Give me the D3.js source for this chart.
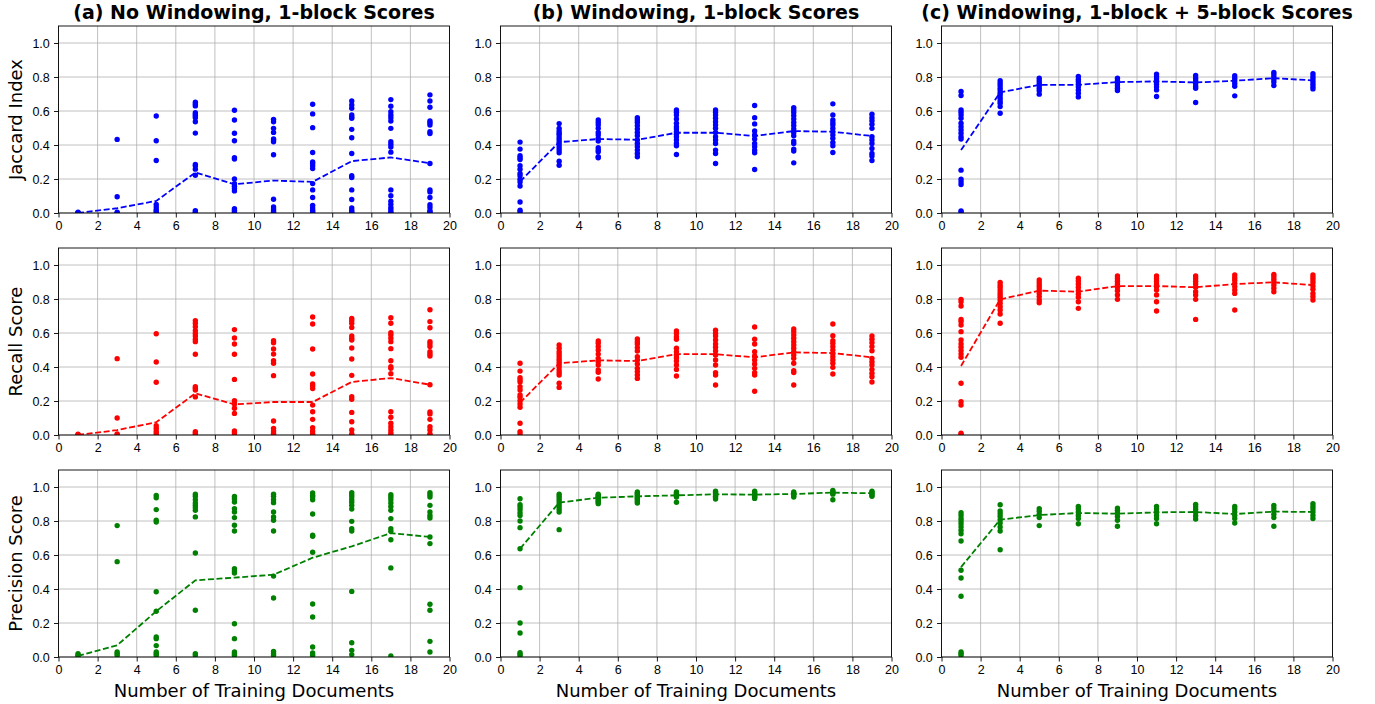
<!DOCTYPE html>
<html>
<head>
<meta charset="utf-8">
<script src="https://cdn.jsdelivr.net/npm/d3@7"></script>
<style>
  body { margin: 0; background: #fff; }
  svg { display: block; font-family: "DejaVu Sans", sans-serif; }
  .tick text { font-size: 12.5px; fill: #000; }
  .tick line { stroke: #000; stroke-width: 0.9; }
</style>
</head>
<body>
<svg id="chart" width="1375" height="704"></svg>
<script>
// number of training documents on the x axis
var xValues = [1, 3, 5, 7, 9, 11, 13, 15, 17, 19];
var xTicks = [0, 2, 4, 6, 8, 10, 12, 14, 16, 18, 20];
var yTicks = [0, 0.2, 0.4, 0.6, 0.8, 1.0];

var columnTitles = ['(a) No Windowing, 1-block Scores', '(b) Windowing, 1-block Scores', '(c) Windowing, 1-block + 5-block Scores'];
var rowLabels = ['Jaccard Index', 'Recall Score', 'Precision Score'];
var rowColors = ['#0000ff', '#ff0000', '#008000'];

// Jaccard index, one list of runs per x value
var jaccardA = [
  [0, 0, 0, 0.005],
  [0.433, 0.096, 0.004, 0],
  [0.571, 0.425, 0.309, 0.051, 0.035, 0.02, 0.01, 0],
  [0.652, 0.640, 0.630, 0.590, 0.580, 0.571, 0.561, 0.537, 0.470, 0.285, 0.276, 0.258, 0.222, 0.014, 0.006, 0],
  [0.604, 0.547, 0.469, 0.425, 0.325, 0.317, 0.200, 0.173, 0.157, 0.144, 0.130, 0.026, 0.016, 0.006, 0],
  [0.551, 0.537, 0.498, 0.474, 0.435, 0.429, 0.419, 0.343, 0.081, 0.035, 0.024, 0.014, 0.006, 0],
  [0.640, 0.583, 0.502, 0.356, 0.301, 0.291, 0.278, 0.262, 0.173, 0.136, 0.091, 0.045, 0.030, 0.016, 0.006, 0],
  [0.659, 0.636, 0.616, 0.577, 0.565, 0.557, 0.492, 0.443, 0.350, 0.219, 0.209, 0.136, 0.079, 0.030, 0.016, 0.006, 0],
  [0.667, 0.628, 0.596, 0.577, 0.561, 0.541, 0.498, 0.419, 0.404, 0.388, 0.358, 0.136, 0.102, 0.069, 0.051, 0.033, 0.020, 0.006, 0],
  [0.695, 0.659, 0.622, 0.541, 0.531, 0.518, 0.478, 0.467, 0.291, 0.136, 0.124, 0.091, 0.049, 0.033, 0.014, 0.006, 0]
];
var jaccardAMean = [0.0, 0.028, 0.071, 0.238, 0.169, 0.191, 0.183, 0.305, 0.327, 0.293];

var jaccardB = [
  [0.417, 0.376, 0.337, 0.325, 0.315, 0.278, 0.258, 0.232, 0.219, 0.199, 0.183, 0.159, 0.065, 0.016, 0.006],
  [0.526, 0.498, 0.482, 0.469, 0.459, 0.443, 0.429, 0.415, 0.400, 0.384, 0.370, 0.354, 0.305, 0.281],
  [0.547, 0.533, 0.518, 0.498, 0.474, 0.459, 0.439, 0.423, 0.384, 0.370, 0.360, 0.331, 0.325],
  [0.561, 0.547, 0.533, 0.514, 0.494, 0.474, 0.455, 0.429, 0.409, 0.390, 0.370, 0.350, 0.331],
  [0.606, 0.593, 0.577, 0.553, 0.528, 0.508, 0.494, 0.478, 0.463, 0.449, 0.429, 0.409, 0.396, 0.344],
  [0.606, 0.593, 0.577, 0.557, 0.537, 0.518, 0.498, 0.474, 0.449, 0.429, 0.409, 0.370, 0.350, 0.291],
  [0.632, 0.561, 0.524, 0.482, 0.459, 0.435, 0.409, 0.390, 0.370, 0.354, 0.256],
  [0.620, 0.606, 0.591, 0.573, 0.553, 0.533, 0.514, 0.494, 0.474, 0.455, 0.423, 0.409, 0.376, 0.364, 0.295],
  [0.642, 0.577, 0.547, 0.531, 0.518, 0.498, 0.478, 0.459, 0.439, 0.415, 0.396, 0.356],
  [0.581, 0.561, 0.543, 0.522, 0.498, 0.449, 0.429, 0.409, 0.380, 0.350, 0.335, 0.309]
];
var jaccardBMean = [0.185, 0.417, 0.435, 0.431, 0.472, 0.472, 0.453, 0.482, 0.478, 0.453];

var jaccardC = [
  [0.715, 0.691, 0.606, 0.593, 0.577, 0.557, 0.528, 0.508, 0.488, 0.469, 0.449, 0.435, 0.252, 0.199, 0.183, 0.167, 0.012, 0.006],
  [0.778, 0.764, 0.750, 0.734, 0.719, 0.705, 0.691, 0.675, 0.659, 0.646, 0.626, 0.587],
  [0.793, 0.778, 0.764, 0.750, 0.734, 0.719, 0.699],
  [0.803, 0.787, 0.774, 0.758, 0.742, 0.724, 0.705, 0.683],
  [0.793, 0.778, 0.764, 0.750, 0.734, 0.720],
  [0.817, 0.803, 0.789, 0.774, 0.758, 0.742, 0.724, 0.685],
  [0.809, 0.793, 0.778, 0.762, 0.746, 0.734, 0.650],
  [0.807, 0.793, 0.778, 0.762, 0.746, 0.689],
  [0.827, 0.813, 0.799, 0.785, 0.770, 0.750],
  [0.819, 0.803, 0.789, 0.774, 0.758, 0.742, 0.730]
];
var jaccardCMean = [0.370, 0.709, 0.754, 0.754, 0.770, 0.774, 0.768, 0.778, 0.793, 0.780];

// recall
var recallA = [
  [0, 0, 0.005],
  [0.449, 0.100, 0.006, 0],
  [0.596, 0.429, 0.310, 0.055, 0.039, 0.024, 0.012, 0],
  [0.673, 0.657, 0.637, 0.614, 0.598, 0.582, 0.563, 0.549, 0.475, 0.284, 0.275, 0.265, 0.224, 0.020, 0.010, 0],
  [0.620, 0.571, 0.535, 0.475, 0.327, 0.202, 0.182, 0.157, 0.127, 0.024, 0.014, 0],
  [0.555, 0.543, 0.506, 0.476, 0.437, 0.422, 0.349, 0.082, 0.039, 0.024, 0.010, 0],
  [0.694, 0.653, 0.506, 0.359, 0.300, 0.288, 0.273, 0.176, 0.137, 0.092, 0.043, 0.024, 0.006, 0],
  [0.686, 0.673, 0.657, 0.633, 0.582, 0.569, 0.559, 0.512, 0.447, 0.351, 0.225, 0.210, 0.133, 0.078, 0.029, 0.006, 0],
  [0.690, 0.657, 0.602, 0.588, 0.569, 0.549, 0.508, 0.437, 0.402, 0.392, 0.361, 0.137, 0.104, 0.069, 0.049, 0.029, 0.012, 0],
  [0.737, 0.667, 0.631, 0.549, 0.535, 0.520, 0.490, 0.476, 0.465, 0.296, 0.135, 0.124, 0.092, 0.049, 0.029, 0.006, 0]
];
var recallAMean = [0.0, 0.029, 0.075, 0.245, 0.180, 0.194, 0.194, 0.312, 0.335, 0.296];

var recallB = [
  [0.422, 0.376, 0.337, 0.324, 0.312, 0.284, 0.265, 0.235, 0.222, 0.202, 0.182, 0.163, 0.069, 0.020, 0.006],
  [0.529, 0.510, 0.490, 0.476, 0.461, 0.445, 0.431, 0.418, 0.402, 0.382, 0.367, 0.353, 0.304, 0.280],
  [0.553, 0.539, 0.520, 0.500, 0.476, 0.451, 0.431, 0.412, 0.382, 0.369, 0.329],
  [0.565, 0.549, 0.535, 0.514, 0.494, 0.461, 0.441, 0.418, 0.392, 0.373, 0.353, 0.333],
  [0.612, 0.598, 0.578, 0.563, 0.510, 0.490, 0.471, 0.455, 0.435, 0.412, 0.386, 0.347],
  [0.616, 0.598, 0.582, 0.559, 0.535, 0.516, 0.494, 0.471, 0.441, 0.412, 0.367, 0.353, 0.294],
  [0.635, 0.563, 0.535, 0.490, 0.465, 0.441, 0.418, 0.392, 0.367, 0.353, 0.257],
  [0.624, 0.608, 0.588, 0.569, 0.549, 0.529, 0.510, 0.490, 0.471, 0.451, 0.422, 0.378, 0.367, 0.294],
  [0.653, 0.584, 0.555, 0.539, 0.520, 0.500, 0.480, 0.461, 0.441, 0.422, 0.398, 0.359],
  [0.582, 0.563, 0.543, 0.520, 0.496, 0.451, 0.431, 0.412, 0.386, 0.363, 0.343, 0.312]
];
var recallBMean = [0.190, 0.422, 0.439, 0.435, 0.476, 0.475, 0.457, 0.486, 0.482, 0.457];

var recallC = [
  [0.798, 0.784, 0.759, 0.680, 0.667, 0.647, 0.608, 0.559, 0.535, 0.516, 0.496, 0.476, 0.457, 0.304, 0.196, 0.176, 0.010, 0.004],
  [0.898, 0.882, 0.869, 0.853, 0.837, 0.824, 0.810, 0.794, 0.775, 0.755, 0.735, 0.712, 0.657],
  [0.912, 0.896, 0.880, 0.865, 0.849, 0.833, 0.814, 0.794, 0.778],
  [0.922, 0.906, 0.888, 0.869, 0.849, 0.829, 0.810, 0.784, 0.745],
  [0.935, 0.920, 0.904, 0.888, 0.869, 0.849, 0.824, 0.798],
  [0.935, 0.920, 0.904, 0.888, 0.873, 0.853, 0.824, 0.784, 0.729],
  [0.935, 0.920, 0.904, 0.888, 0.869, 0.843, 0.824, 0.798, 0.680],
  [0.941, 0.925, 0.910, 0.892, 0.873, 0.853, 0.833, 0.735],
  [0.945, 0.931, 0.916, 0.900, 0.882, 0.863, 0.843],
  [0.941, 0.927, 0.912, 0.896, 0.876, 0.857, 0.833, 0.814, 0.794]
];
var recallCMean = [0.406, 0.798, 0.849, 0.843, 0.876, 0.876, 0.869, 0.888, 0.898, 0.882];

// precision
var precisionA = [
  [0.020, 0.010, 0.004],
  [0.773, 0.561, 0.029, 0.020, 0.010],
  [0.951, 0.937, 0.867, 0.804, 0.794, 0.384, 0.269, 0.118, 0.108, 0.067, 0.029, 0.020, 0.010],
  [0.957, 0.945, 0.925, 0.906, 0.892, 0.878, 0.863, 0.824, 0.612, 0.275, 0.020, 0.010],
  [0.945, 0.931, 0.912, 0.873, 0.853, 0.820, 0.775, 0.741, 0.520, 0.506, 0.494, 0.196, 0.108, 0.029, 0.020, 0.010],
  [0.957, 0.945, 0.925, 0.908, 0.853, 0.824, 0.804, 0.741, 0.476, 0.347, 0.033, 0.020, 0.010],
  [0.965, 0.951, 0.941, 0.925, 0.841, 0.716, 0.710, 0.616, 0.312, 0.235, 0.059, 0.024, 0.010],
  [0.967, 0.955, 0.941, 0.925, 0.910, 0.892, 0.871, 0.798, 0.755, 0.741, 0.386, 0.084, 0.039, 0.014],
  [0.955, 0.941, 0.925, 0.906, 0.886, 0.863, 0.814, 0.755, 0.739, 0.690, 0.524, 0.006],
  [0.967, 0.955, 0.941, 0.892, 0.853, 0.833, 0.818, 0.706, 0.667, 0.310, 0.275, 0.092, 0.029]
];
var precisionAMean = [0.006, 0.069, 0.269, 0.451, 0.467, 0.484, 0.584, 0.651, 0.729, 0.706];

var precisionB = [
  [0.931, 0.896, 0.882, 0.867, 0.849, 0.833, 0.800, 0.761, 0.637, 0.408, 0.200, 0.141, 0.025, 0.016, 0.006],
  [0.957, 0.945, 0.931, 0.918, 0.902, 0.886, 0.869, 0.853, 0.749],
  [0.957, 0.950, 0.945, 0.938, 0.931, 0.924, 0.918, 0.910, 0.902],
  [0.971, 0.964, 0.957, 0.949, 0.941, 0.933, 0.925, 0.915, 0.906],
  [0.971, 0.964, 0.957, 0.949, 0.941, 0.910],
  [0.975, 0.968, 0.961, 0.953, 0.945, 0.937, 0.929],
  [0.975, 0.968, 0.961, 0.953, 0.945, 0.939, 0.933],
  [0.971, 0.964, 0.957, 0.949, 0.941],
  [0.980, 0.972, 0.965, 0.958, 0.925],
  [0.975, 0.968, 0.961, 0.953, 0.945]
];
var precisionBMean = [0.637, 0.908, 0.937, 0.945, 0.951, 0.957, 0.955, 0.959, 0.967, 0.963];

var precisionC = [
  [0.849, 0.833, 0.814, 0.800, 0.784, 0.765, 0.745, 0.725, 0.682, 0.510, 0.465, 0.357, 0.029, 0.020, 0.010],
  [0.896, 0.859, 0.843, 0.827, 0.808, 0.788, 0.765, 0.741, 0.631],
  [0.873, 0.857, 0.839, 0.820, 0.773],
  [0.886, 0.871, 0.853, 0.833, 0.814, 0.784],
  [0.876, 0.863, 0.847, 0.827, 0.804, 0.769],
  [0.886, 0.871, 0.853, 0.833, 0.814, 0.784],
  [0.898, 0.882, 0.867, 0.851, 0.831, 0.812],
  [0.886, 0.871, 0.853, 0.833, 0.814, 0.788],
  [0.892, 0.876, 0.859, 0.839, 0.820, 0.769],
  [0.902, 0.886, 0.871, 0.853, 0.833, 0.814]
];
var precisionCMean = [0.529, 0.808, 0.835, 0.847, 0.843, 0.851, 0.853, 0.841, 0.855, 0.853];

var grid = [
  [[jaccardA, jaccardAMean], [jaccardB, jaccardBMean], [jaccardC, jaccardCMean]],
  [[recallA, recallAMean], [recallB, recallBMean], [recallC, recallCMean]],
  [[precisionA, precisionAMean], [precisionB, precisionBMean], [precisionC, precisionCMean]]
];

var svg = d3.select('#chart');
var colLeft = [58.5, 500.5, 941.5];
var rowTop = [26, 248, 470];
var panelW = 391;
var panelH = 187;

var drawPanel = function(row, col) {
  var points = grid[row][col][0];
  var means = grid[row][col][1];
  var color = rowColors[row];
  var x = d3.scaleLinear().domain([0, 20]).range([0, panelW]);
  var y = d3.scaleLinear().domain([0, 1.1]).range([panelH, 0]);
  var g = svg.append('g')
    .attr('transform', 'translate(' + colLeft[col] + ',' + rowTop[row] + ')');

  var clipId = 'clip-' + row + '-' + col;
  g.append('clipPath').attr('id', clipId)
    .append('rect').attr('width', panelW).attr('height', panelH);

  // grid lines
  g.append('g').selectAll('line').data(xTicks).enter().append('line')
    .attr('x1', function(d) { return x(d); })
    .attr('x2', function(d) { return x(d); })
    .attr('y1', 0).attr('y2', panelH)
    .attr('stroke', '#b0b0b0').attr('stroke-width', 0.8);
  g.append('g').selectAll('line').data(yTicks).enter().append('line')
    .attr('y1', function(d) { return y(d); })
    .attr('y2', function(d) { return y(d); })
    .attr('x1', 0).attr('x2', panelW)
    .attr('stroke', '#b0b0b0').attr('stroke-width', 0.8);

  // scatter of individual runs
  var flat = [];
  points.forEach(function(list, i) {
    list.forEach(function(v) { flat.push({x: xValues[i], y: v}); });
  });
  var plot = g.append('g').attr('clip-path', 'url(#' + clipId + ')');
  plot.selectAll('circle').data(flat).enter().append('circle')
    .attr('cx', function(d) { return x(d.x); })
    .attr('cy', function(d) { return y(d.y); })
    .attr('r', 2.7)
    .attr('fill', color);

  // mean line
  var line = d3.line()
    .x(function(d, i) { return x(xValues[i]); })
    .y(function(d) { return y(d); });
  plot.append('path')
    .datum(means)
    .attr('d', line)
    .attr('fill', 'none')
    .attr('stroke', color)
    .attr('stroke-width', 1.8)
    .attr('stroke-dasharray', '6,2.6');

  // axes
  var xAxis = g.append('g')
    .attr('transform', 'translate(0,' + panelH + ')')
    .call(d3.axisBottom(x).tickValues(xTicks).tickSize(4.5).tickPadding(3.8).tickFormat(d3.format('d')));
  var yAxis = g.append('g')
    .call(d3.axisLeft(y).tickValues(yTicks).tickSize(4.5).tickPadding(4.2).tickFormat(d3.format('.1f')));
  xAxis.select('.domain').remove();
  yAxis.select('.domain').remove();

  // frame
  g.append('rect')
    .attr('width', panelW).attr('height', panelH)
    .attr('fill', 'none').attr('stroke', '#000').attr('stroke-width', 0.9);
};

for (var r = 0; r < 3; r++) {
  for (var c = 0; c < 3; c++) {
    drawPanel(r, c);
  }
}

// column titles
columnTitles.forEach(function(t, c) {
  svg.append('text')
    .attr('x', colLeft[c] + panelW / 2)
    .attr('y', 19)
    .attr('text-anchor', 'middle')
    .attr('font-weight', 'bold')
    .attr('font-size', '19px')
    .text(t);
});

// row labels
rowLabels.forEach(function(t, r) {
  var cy = rowTop[r] + panelH / 2;
  svg.append('text')
    .attr('transform', 'translate(22,' + cy + ') rotate(-90)')
    .attr('text-anchor', 'middle')
    .attr('font-size', '18px')
    .text(t);
});

// x labels under the bottom row
colLeft.forEach(function(l) {
  svg.append('text')
    .attr('x', l + panelW / 2)
    .attr('y', 697)
    .attr('text-anchor', 'middle')
    .attr('font-size', '18px')
    .text('Number of Training Documents');
});
</script>
</body>
</html>
